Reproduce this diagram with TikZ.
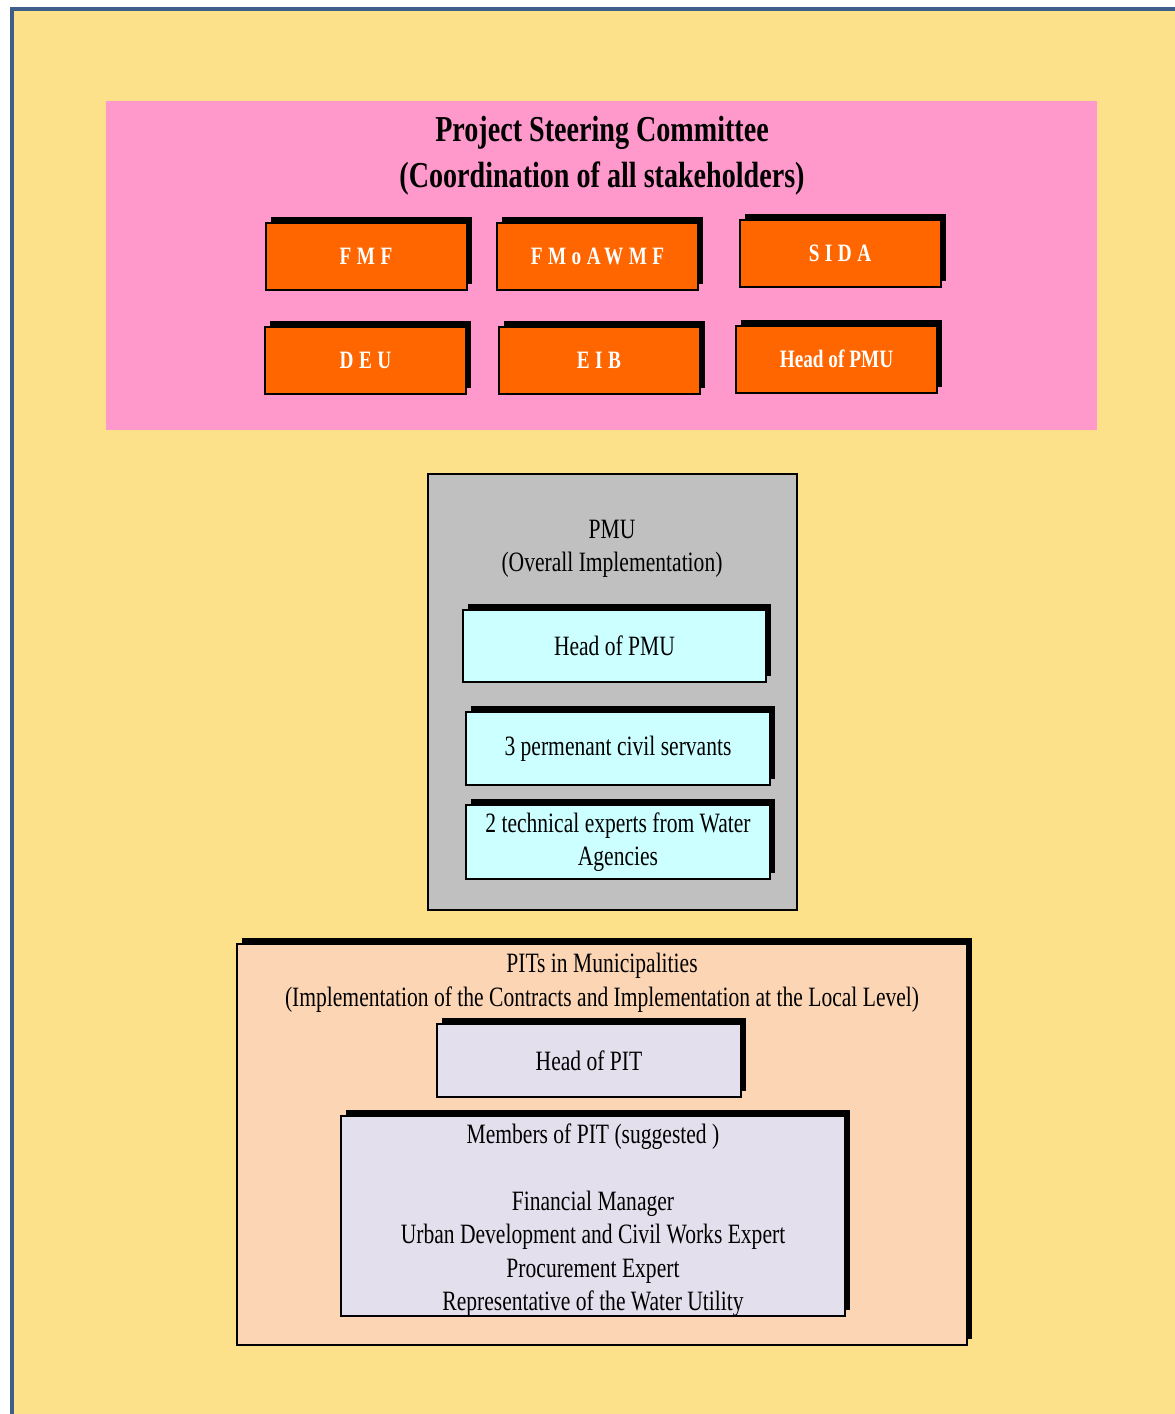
\documentclass[tikz,border=0pt]{standalone}
\usepackage{fontspec}
\setmainfont{Liberation Serif}[FakeStretch=0.77]
\usetikzlibrary{positioning,shadows}

\definecolor{pageyellow}{HTML}{FDE08A}
\definecolor{frameblue}{HTML}{3E5F8A}
\definecolor{steerpink}{HTML}{FF99CC}
\definecolor{memberorange}{HTML}{FF6600}
\definecolor{pmugrey}{HTML}{C0C0C0}
\definecolor{staffcyan}{HTML}{CCFFFF}
\definecolor{pitpeach}{HTML}{FCD5B4}
\definecolor{pitlavender}{HTML}{E4DFEC}

\begin{document}
\begin{tikzpicture}[x=1pt, y=-1pt,
	boxshadow/.style={general shadow={fill=black, shadow xshift=5pt, shadow yshift=6pt}},
	textnode/.style={align=center, inner sep=0pt, font=\fontsize{28}{33.5}\selectfont},
	titlenode/.style={align=center, inner sep=0pt, font=\fontsize{36.5}{46}\selectfont\bfseries},
	membernode/.style={rectangle, draw=black, line width=2pt, fill=memberorange, boxshadow, minimum width=201pt, minimum height=67pt, text=white, font=\fontsize{25}{28}\selectfont\bfseries\addfontfeature{LetterSpace=22}},
	panelnode/.style={rectangle, draw=black, line width=2pt},
	staffnode/.style={rectangle, draw=black, line width=2pt, fill=staffcyan, boxshadow, align=center, font=\fontsize{28}{33.5}\selectfont},
	pitnode/.style={rectangle, draw=black, line width=2pt, fill=pitlavender, boxshadow, align=center, font=\fontsize{28}{33.5}\selectfont},
	]
	\useasboundingbox (0,0) rectangle (1175,1414);
	
	%Page
	\fill[pageyellow] (12,9) rectangle (1175,1414);
	\draw[frameblue, line width=4pt] (12,1414) -- (12,9) -- (1175,9);
	
	%Steering committee
	\node[rectangle, fill=steerpink, minimum width=991pt, minimum height=329pt] (Steering) at (601.5,265.5) {};
	\node[titlenode] (SteeringTitle) at (602,156) {Project Steering Committee\\(Coordination of all stakeholders)};
	\node[membernode] (FMF) at (366,256.5) {FMF};
	\node[membernode] (FMoAWMF) at (597.5,256.5) {FMoAWMF};
	\node[membernode] (SIDA) at (840,253.5) {SIDA};
	\node[membernode] (DEU) at (365.5,360) {DEU};
	\node[membernode] (EIB) at (599,360) {EIB};
	\node[membernode, font=\fontsize{25}{28}\selectfont\bfseries] (SteerHead) at (836.5,359) {Head of PMU};
	
	%PMU
	\node[panelnode, fill=pmugrey, minimum width=369pt, minimum height=436pt] (PMU) at (612.5,692) {};
	\node[textnode] (PMUTitle) at (612,549) {PMU\\(Overall Implementation)};
	\node[staffnode, minimum width=303pt, minimum height=72pt] (PMUHead) at (614.5,646) {Head of PMU};
	\node[staffnode, minimum width=304pt, minimum height=73pt] (Servants) at (618,748.5) {3 permenant civil servants};
	\node[staffnode, minimum width=304pt, minimum height=74pt] (Experts) at (618,842) {2 technical experts from Water\\Agencies};
	
	%PITs
	\node[panelnode, fill=pitpeach, boxshadow, minimum width=730pt, minimum height=401pt] (PIT) at (602,1144.5) {};
	\node[textnode] (PITTitle) at (602,983) {PITs in Municipalities\\(Implementation of the Contracts and Implementation at the Local Level)};
	\node[pitnode, minimum width=304pt, minimum height=73pt] (PITHead) at (589,1060.5) {Head of PIT};
	\node[pitnode, minimum width=504pt, minimum height=200pt] (Members) at (593,1216) {};
	\node[textnode] (MemberList) at (593,1220) {Members of PIT (suggested )\\ \\Financial Manager\\Urban Development and Civil Works Expert\\Procurement Expert\\Representative of the Water Utility};
	
\end{tikzpicture}
\end{document}
